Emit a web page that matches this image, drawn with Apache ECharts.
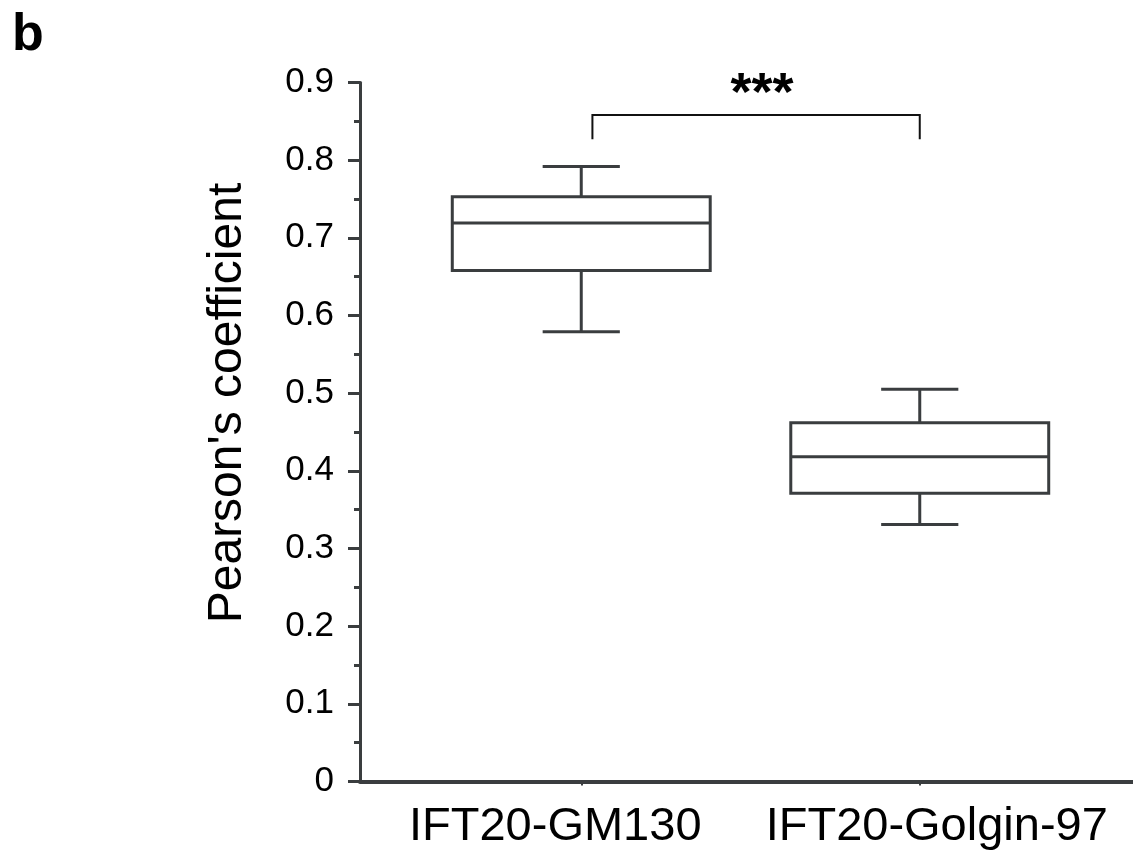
<!DOCTYPE html>
<html>
<head>
<meta charset="utf-8">
<script src="https://cdn.jsdelivr.net/npm/echarts@6/dist/echarts.min.js"></script>
<style>
  html, body { margin: 0; padding: 0; background: #ffffff; }
  #chart { width: 1133px; height: 852px; }
</style>
</head>
<body>
<div id="chart"></div>
<script>
// ---- data ----
const categories = ['IFT20-GM130', 'IFT20-Golgin-97'];
const whiskerLow  = [0.579, 0.331];
const q1          = [0.658, 0.371];
const median      = [0.719, 0.418];
const q3          = [0.753, 0.462];
const whiskerHigh = [0.792, 0.505];
const yMin = 0, yMax = 0.9, yInterval = 0.1;
const sigFrom = 0, sigTo = 1;          // categories compared
const sigTop = 0.858, sigDrop = 0.827; // bracket levels
const sigLabel = '***';
const yTitle = "Pearson's coefficient";
const panelLetter = 'b';

const FONT = '"Liberation Sans", Arial, Helvetica, sans-serif';
const INK = '#3a3d3f';

const boxData = categories.map((c, i) => [i, whiskerLow[i], q1[i], median[i], q3[i], whiskerHigh[i]]);

const chart = echarts.init(document.getElementById('chart'), null, { renderer: 'canvas' });

const option = {
  backgroundColor: '#ffffff',
  animation: false,
  textStyle: { fontFamily: FONT },
  graphic: [{
    type: 'text', left: 12, top: 10,
    style: { text: panelLetter, fontFamily: FONT, fontSize: 52, fontWeight: 'bold', fill: '#000' }
  }],
  grid: [
    { left: 360, right: 0, top: 82.5, bottom: 70.5 },
    { left: 412, right: 44, top: 82.5, bottom: 70.5 }
  ],
  xAxis: [
    {
      gridIndex: 0, type: 'value', min: 0, max: 1,
      axisLine: { show: true, lineStyle: { color: INK, width: 4 } },
      axisTick: { show: false }, axisLabel: { show: false }, splitLine: { show: false }
    },
    {
      gridIndex: 1, type: 'category', data: categories, boundaryGap: true,
      axisLine: { show: false },
      axisTick: { show: true, alignWithLabel: true, length: 4, lineStyle: { color: INK, width: 2 } },
      axisLabel: {
        show: true, interval: 0, hideOverlap: false, margin: 22, color: '#000', fontSize: 47, fontFamily: FONT,
        formatter: (v, i) => i === 0 ? '{t|' + v + '}{g1|}' : '{g2|}{t|' + v + '}',
        rich: {
          t: { fontSize: 47, fontFamily: FONT, color: '#000' },
          g1: { width: 52 },
          g2: { width: 34 }
        }
      },
      splitLine: { show: false }
    }
  ],
  yAxis: [
    {
      gridIndex: 0, type: 'value', min: yMin, max: yMax, interval: yInterval,
      name: yTitle, nameLocation: 'middle', nameGap: 108,
      nameTextStyle: { fontSize: 48, fontFamily: FONT, color: '#000', padding: [0, 0, 0, 58] },
      axisLine: { show: true, lineStyle: { color: INK, width: 3 } },
      axisTick: { show: true, length: 12, lineStyle: { color: INK, width: 3 } },
      minorTick: { show: true, splitNumber: 2, length: 6, lineStyle: { color: INK, width: 3 } },
      axisLabel: {
        show: true, margin: 26, color: '#000', fontSize: 35, fontFamily: FONT,
        formatter: v => (v === 0 ? '0' : v.toFixed(1))
      },
      splitLine: { show: false }
    },
    {
      gridIndex: 1, type: 'value', min: yMin, max: yMax, interval: yInterval, show: false
    }
  ],
  series: [
    {
      type: 'custom', xAxisIndex: 1, yAxisIndex: 1, data: boxData,
      renderItem: function (params, api) {
        const idx = api.value(0);
        const band = api.size([1, 0])[0];
        const x = api.coord([idx, api.value(3)])[0];
        const yLow = api.coord([idx, api.value(1)])[1];
        const yQ1 = api.coord([idx, api.value(2)])[1];
        const yMed = api.coord([idx, api.value(3)])[1];
        const yQ3 = api.coord([idx, api.value(4)])[1];
        const yHigh = api.coord([idx, api.value(5)])[1];
        const half = band * 0.381, cap = band * 0.114;
        const ls = { stroke: INK, lineWidth: 3, fill: null };
        return {
          type: 'group',
          children: [
            { type: 'line', shape: { x1: x, y1: yHigh, x2: x, y2: yQ3 }, style: ls },
            { type: 'line', shape: { x1: x, y1: yQ1, x2: x, y2: yLow }, style: ls },
            { type: 'line', shape: { x1: x - cap, y1: yHigh, x2: x + cap, y2: yHigh }, style: ls },
            { type: 'line', shape: { x1: x - cap, y1: yLow, x2: x + cap, y2: yLow }, style: ls },
            { type: 'rect', shape: { x: x - half, y: yQ3, width: half * 2, height: yQ1 - yQ3 },
              style: { stroke: INK, lineWidth: 3, fill: '#ffffff' } },
            { type: 'line', shape: { x1: x - half, y1: yMed, x2: x + half, y2: yMed }, style: ls }
          ]
        };
      }
    },
    {
      type: 'custom', xAxisIndex: 1, yAxisIndex: 1,
      data: [[sigFrom, sigTo, sigTop, sigDrop]],
      renderItem: function (params, api) {
        const band = api.size([1, 0])[0];
        const pTop1 = api.coord([api.value(0), api.value(2)]);
        const pTop2 = api.coord([api.value(1), api.value(2)]);
        const yDrop = api.coord([api.value(0), api.value(3)])[1];
        const xa = pTop1[0] + band * 0.033;
        const xb = pTop2[0];
        const yt = pTop1[1];
        const ls = { stroke: '#111', lineWidth: 2, fill: null };
        return {
          type: 'group',
          children: [
            { type: 'polyline', shape: { points: [[xa, yDrop], [xa, yt], [xb, yt], [xb, yDrop]] }, style: ls },
            { type: 'text', x: (xa + xb) / 2 + 6, y: yt - 20,
              style: { text: sigLabel, fontFamily: FONT, fontSize: 54, fontWeight: 'bold', fill: '#000',
                       align: 'center', verticalAlign: 'middle' } }
          ]
        };
      }
    }
  ]
};

chart.setOption(option);
</script>
</body>
</html>
